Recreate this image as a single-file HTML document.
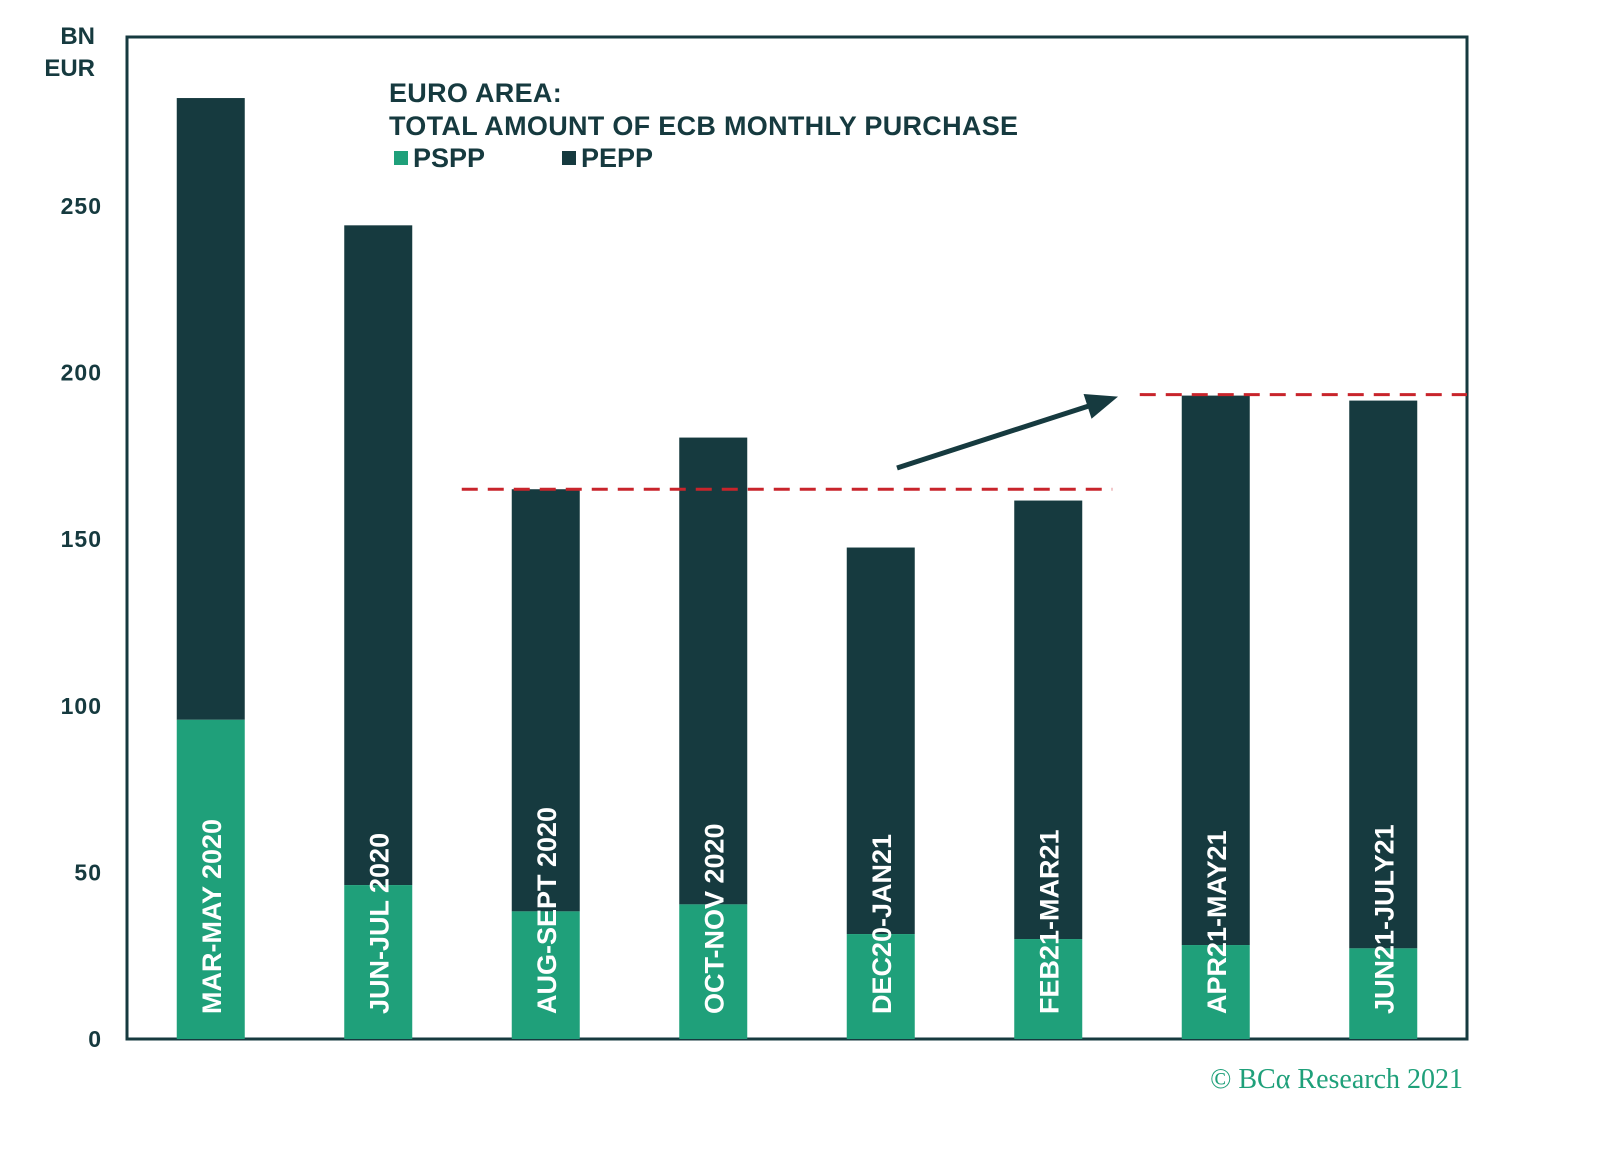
<!DOCTYPE html>
<html><head><meta charset="utf-8"><style>
html,body{margin:0;padding:0;background:#fff;}
svg{display:block;font-family:"Liberation Sans",sans-serif;}
</style></head><body>
<svg id="chart" width="1600" height="1151" viewBox="0 0 1600 1151">
  <rect x="127" y="37" width="1340" height="1002" fill="none" stroke="#163a3f" stroke-width="3"/>
  <g id="bars"></g>
  <g id="yticks"></g>
  <text x="95" y="44" text-anchor="end" font-size="24" font-weight="bold" fill="#163a3f"><tspan x="95">BN</tspan><tspan x="95" dy="32">EUR</tspan></text>
  <g>
    <text x="389" y="102" font-size="27" font-weight="bold" fill="#163a3f" letter-spacing="0.3">EURO AREA:</text>
    <text x="389" y="135" font-size="27" font-weight="bold" fill="#163a3f" letter-spacing="0.3">TOTAL AMOUNT OF ECB MONTHLY PURCHASE</text>
  </g>
  <g>
    <rect x="394" y="151" width="14" height="14" fill="#1fa07a"/>
    <text x="413" y="167" font-size="27" font-weight="bold" fill="#163a3f">PSPP</text>
  </g>
  <g>
    <rect x="562" y="151" width="14" height="14" fill="#163a3f"/>
    <text x="581" y="167" font-size="27" font-weight="bold" fill="#163a3f">PEPP</text>
  </g>
  <g id="annot"></g>
  <text x="1463" y="1088" text-anchor="end" font-family="Liberation Serif,serif" font-size="28" fill="#1fa07a">© BCα Research 2021</text>
</svg>
<script>
const categories = ["MAR-MAY 2020","JUN-JUL 2020","AUG-SEPT 2020","OCT-NOV 2020","DEC20-JAN21","FEB21-MAR21","APR21-MAY21","JUN21-JULY21"];
const psppValues = [95.8, 46.2, 38.3, 40.4, 31.5, 30.0, 28.2, 27.2];
const totalValues = [282.4, 244.2, 165.0, 180.5, 147.5, 161.6, 193.1, 191.6];
const yTicks = [0, 50, 100, 150, 200, 250];
const refLevels = [165, 193.4];

const NS = "http://www.w3.org/2000/svg";
const L = 127, R = 1467, B = 1039, T = 37;
const y = v => B - v * 3.332;
const band = (R - L) / categories.length;
const xc = i => L + band * (i + 0.5);
const BW = 68;
function mk(tag, attrs, parent){const e=document.createElementNS(NS,tag);for(const k in attrs)e.setAttribute(k,attrs[k]);parent.appendChild(e);return e;}

const bars = document.getElementById("bars");
categories.forEach((c,i)=>{
  const g = mk("g",{},bars);
  
  
  const pe = mk("rect",{x:xc(i)-BW/2,y:y(totalValues[i]),width:BW,height:y(psppValues[i])-y(totalValues[i]),fill:"#163a3f"},g);
  
  
  const ps = mk("rect",{x:xc(i)-BW/2,y:y(psppValues[i]),width:BW,height:B-y(psppValues[i]),fill:"#1fa07a"},g);
  
  
  const t = mk("text",{x:0,y:0,transform:`translate(${xc(i)+10},${B-25}) rotate(-90)`,"font-size":"27","font-weight":"bold",fill:"#fff"},g);
  t.textContent = c;
  
  
});

const yt = document.getElementById("yticks");
yTicks.forEach(v=>{
  const t = mk("text",{x:102,y:y(v)+8,"text-anchor":"end","font-size":"23","font-weight":"bold",fill:"#163a3f","letter-spacing":"1"},yt);
  t.textContent = v;
  
  
});

const an = document.getElementById("annot");
const d1 = mk("line",{x1:xc(2)-BW/2-50,x2:xc(5)+BW/2+30,y1:y(refLevels[0]),y2:y(refLevels[0]),stroke:"#c8242b","stroke-width":3,"stroke-dasharray":"16 10"},an);


const d2 = mk("line",{x1:xc(6)-BW/2-42,x2:R,y1:y(refLevels[1]),y2:y(refLevels[1]),stroke:"#c8242b","stroke-width":3,"stroke-dasharray":"16 10"},an);


const ax1=897, ay1=468, ax2=1118, ay2=y(refLevels[1])+2;
const ar = mk("line",{x1:ax1,y1:ay1,x2:ax2-25,y2:ay2+8,stroke:"#163a3f","stroke-width":5},an);


const ang=Math.atan2(ay2-ay1,ax2-ax1);
const p=(d,o)=>[ax2-d*Math.cos(ang)+o*Math.sin(ang), ay2-d*Math.sin(ang)-o*Math.cos(ang)];
const h = mk("polygon",{points:[[ax2,ay2],p(32,13),p(32,-13)].map(q=>q.join(",")).join(" "),fill:"#163a3f"},an);


</script>
</body></html>
